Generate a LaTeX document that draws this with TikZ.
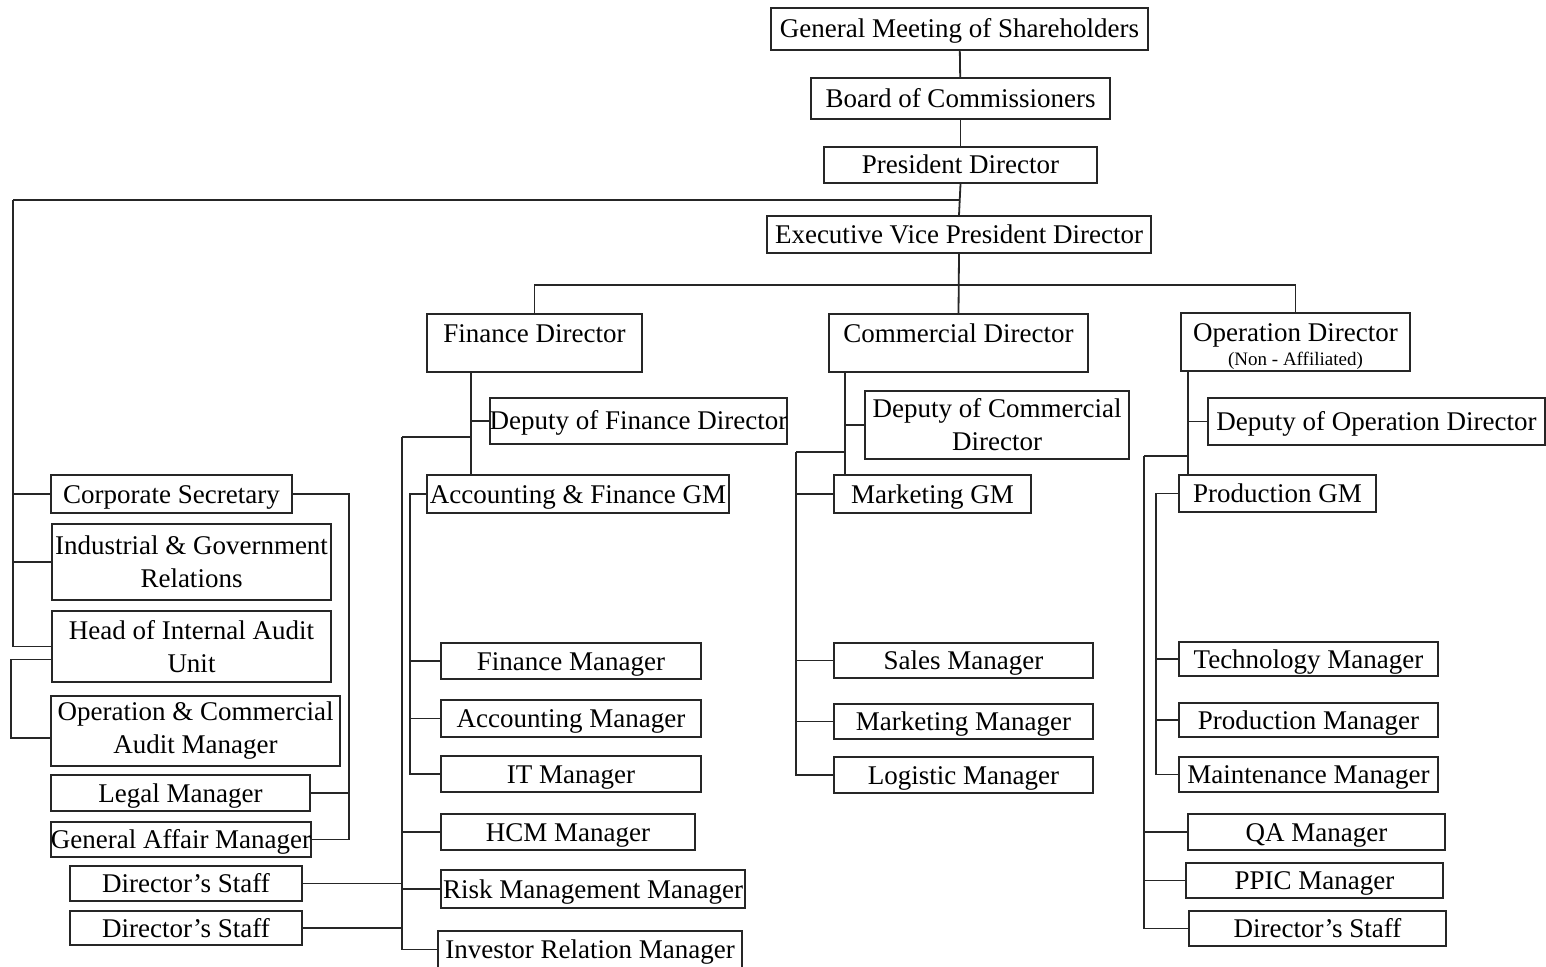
\documentclass[tikz,border=0pt]{standalone}
\usepackage{fontspec}
\setmainfont{Liberation Serif}

\begin{document}
\begin{tikzpicture}[x=0.5pt, y=-0.5pt,
    post/.style={draw=black!85, line width=0.9pt, inner sep=0pt, align=center,
                 font=\fontsize{13.5}{16.5}\selectfont},
    one/.style={text height=11pt, text depth=2pt},
    wd/.style={minimum width=#1*0.5pt},
    ht/.style={minimum height=#1*0.5pt},
    head/.style={text height=14.5pt, text depth=14.5pt},
    link/.style={draw=black!85, line width=0.9pt}]
            \useasboundingbox (0,0) rectangle (1546,967);

            % top of the chart
            \node[post, one, wd=377, ht=42] (gms) at (959.5,29) {General Meeting of Shareholders};
            \node[post, one, wd=299, ht=41] (boc) at (960.5,98.5) {Board of Commissioners};
            \node[post, one, wd=273, ht=36] (pd) at (960.5,165) {President Director};
            \node[post, one, wd=384, ht=37] (evp) at (959,234.5) {Executive Vice President Director};

            % directors
            \node[post, head, wd=215, ht=58] (fd) at (534.5,343) {Finance Director};
            \node[post, head, wd=259, ht=58] (cd) at (958.5,343) {Commercial Director};
            \node[post, wd=229, ht=58, font=\fontsize{13.5}{12}\selectfont] (od) at (1295.5,342)
                {\rule{0pt}{13.5pt}Operation Director\\{\fontsize{9.5}{11}\selectfont (Non - Affiliated)}};

            % left column
            \node[post, one, wd=241, ht=38] (cs) at (171.5,494) {Corporate Secretary};
            \node[post, wd=279, ht=76] (igr) at (191.5,562) {Industrial \& Government\\Relations};
            \node[post, wd=279, ht=71] (hia) at (191.5,646.5) {Head of Internal Audit\\Unit};
            \node[post, wd=289, ht=70] (ocam) at (195.5,731) {Operation \& Commercial\\Audit Manager};
            \node[post, one, wd=259, ht=36] (lgm) at (180.5,793) {Legal Manager};
            \node[post, one, wd=256, ht=35] (gam) at (181,839.5) {General Affair Manager};
            \node[post, one, wd=232, ht=35] (ds1) at (186,883.5) {Director’s Staff};
            \node[post, one, wd=232, ht=34] (ds2) at (186,928) {Director’s Staff};

            % finance
            \node[post, one, wd=295, ht=46] (dfd) at (638.5,421) {Deputy of Finance Director};
            \node[post, one, wd=302, ht=38] (afgm) at (578,494) {Accounting \& Finance GM};
            \node[post, one, wd=260, ht=36] (fm) at (571,661) {Finance Manager};
            \node[post, one, wd=260, ht=37] (am) at (571,718.5) {Accounting Manager};
            \node[post, one, wd=260, ht=36] (itm) at (571,774) {IT Manager};
            \node[post, one, wd=254, ht=36] (hcm) at (568,832) {HCM Manager};
            \node[post, one, wd=304, ht=38] (rmm) at (593,889) {Risk Management Manager};
            \node[post, one, wd=304, ht=37] (irm) at (590,949.5) {Investor Relation Manager};

            % commercial
            \node[post, wd=264, ht=68] (dcd) at (997,425) {Deputy of Commercial\\Director};
            \node[post, one, wd=197, ht=38] (mgm) at (932.5,494) {Marketing GM};
            \node[post, one, wd=259, ht=35] (sm) at (963.5,660.5) {Sales Manager};
            \node[post, one, wd=259, ht=35] (mm) at (963.5,721.5) {Marketing Manager};
            \node[post, one, wd=259, ht=36] (lm) at (963.5,775) {Logistic Manager};

            % operation
            \node[post, one, wd=337, ht=47] (dod) at (1376.5,421.5) {Deputy of Operation Director};
            \node[post, one, wd=197, ht=37] (pgm) at (1277.5,493.5) {Production GM};
            \node[post, one, wd=259, ht=34] (tm) at (1308.5,659) {Technology Manager};
            \node[post, one, wd=259, ht=34] (pm) at (1308.5,720) {Production Manager};
            \node[post, one, wd=259, ht=35] (mtm) at (1308.5,774.5) {Maintenance Manager};
            \node[post, one, wd=257, ht=36] (qa) at (1316.5,832) {QA Manager};
            \node[post, one, wd=257, ht=35] (ppic) at (1314.5,880.5) {PPIC Manager};
            \node[post, one, wd=257, ht=35] (ds3) at (1317.5,928.5) {Director’s Staff};

            % bus points
            \coordinate (lefttop) at (13,200);
            \coordinate (dirbar) at (959,285);
            \coordinate (finbus) at (402,437);
            \coordinate (combus) at (796,452);
            \coordinate (opsbus) at (1144,456);

            % main line
            \draw[link] (gms) -- (boc);
            \draw[link] (boc) -- (pd);
            \draw[link] (pd.south) -- (evp.north);
            \draw[link] (lefttop) -- (evp.north |- lefttop);
            \draw[link] (evp.south) -- (cd.north);
            \draw[link] (fd.north) |- (dirbar) -| (od.north);

            % left column lines
            \draw[link] (lefttop) |- (hia.west);
            \draw[link] (lefttop |- cs.west) -- (cs.west);
            \draw[link] (lefttop |- igr.west) -- (igr.west);
            \draw[link] ([yshift=-6.5pt]hia.west) -- ++(-40,0) |- ([yshift=-3.5pt]ocam.west);
            \draw[link] (cs.east) -- ++(56,0) coordinate (rbus) |- (gam.east);
            \draw[link] (lgm.east) -- (lgm.east -| rbus);

            % finance lines
            \draw[link] ([xshift=22.5pt]fd.south west) coordinate (fin) -- (fin |- afgm.north);
            \draw[link] (fin |- dfd.west) -- (dfd.west);
            \draw[link] (finbus) -- (fin |- finbus);
            \draw[link] (finbus) |- (irm.west);
            \draw[link] (finbus |- hcm.west) -- (hcm.west);
            \draw[link] (finbus |- rmm.west) -- (rmm.west);
            \draw[link] (ds1.east) -- (ds1.east -| finbus);
            \draw[link] (ds2.east) -- (ds2.east -| finbus);
            \draw[link] (afgm.west) -- ++(-16,0) coordinate (afbus) |- (itm.west);
            \draw[link] (afbus |- fm.west) -- (fm.west);
            \draw[link] (afbus |- am.west) -- (am.west);

            % commercial lines
            \draw[link] ([xshift=8.5pt]cd.south west) coordinate (com) -- (com |- mgm.north);
            \draw[link] (com |- dcd.west) -- (dcd.west);
            \draw[link] (combus) -- (com |- combus);
            \draw[link] (combus) |- (lm.west);
            \draw[link] (combus |- mgm.west) -- (mgm.west);
            \draw[link] (combus |- sm.west) -- (sm.west);
            \draw[link] (combus |- mm.west) -- (mm.west);

            % operation lines
            \draw[link] ([xshift=4pt]od.south west) coordinate (ops) -- (ops |- pgm.north);
            \draw[link] (ops |- dod.west) -- (dod.west);
            \draw[link] (opsbus) -- (ops |- opsbus);
            \draw[link] (opsbus) |- (ds3.west);
            \draw[link] (opsbus |- qa.west) -- (qa.west);
            \draw[link] (opsbus |- ppic.west) -- (ppic.west);
            \draw[link] (pgm.west) -- ++(-22,0) coordinate (pbus) |- (mtm.west);
            \draw[link] (pbus |- tm.west) -- (tm.west);
            \draw[link] (pbus |- pm.west) -- (pm.west);
        \end{tikzpicture}
\end{document}
